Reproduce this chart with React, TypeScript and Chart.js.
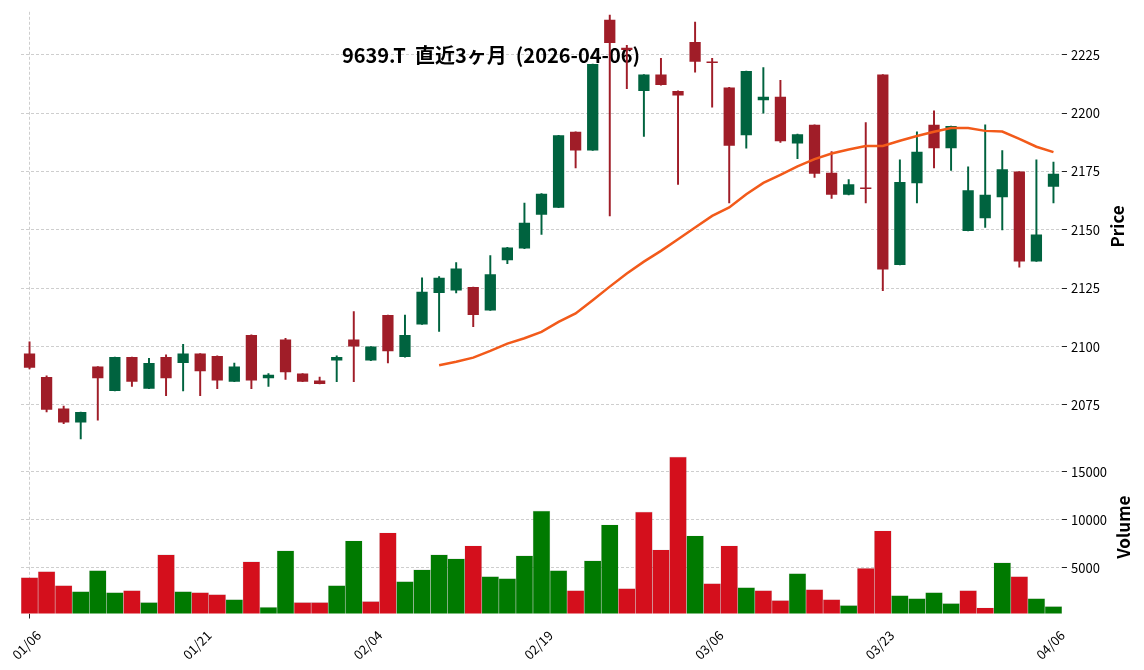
import React, { useEffect, useRef } from 'react';
import { Chart, registerables } from 'chart.js';

Chart.register(...registerables);

const dates = [
  '01/06', '01/07', '01/08', '01/09', '01/13', '01/14', '01/15', '01/16', '01/19', '01/20',
  '01/21', '01/22', '01/23', '01/26', '01/27', '01/28', '01/29', '01/30', '02/02', '02/03',
  '02/04', '02/05', '02/06', '02/09', '02/10', '02/12', '02/13', '02/16', '02/17', '02/18',
  '02/19', '02/20', '02/24', '02/25', '02/26', '02/27', '03/02', '03/03', '03/04', '03/05',
  '03/06', '03/09', '03/10', '03/11', '03/12', '03/13', '03/16', '03/17', '03/18', '03/19',
  '03/23', '03/24', '03/25', '03/26', '03/27', '03/30', '03/31', '04/01', '04/02', '04/03',
  '04/06',
];

const opens = [
  2097, 2087, 2073.5, 2067.5, 2091.5, 2081, 2095.5, 2082, 2095.5, 2093,
  2097, 2096, 2085, 2105, 2086.5, 2103, 2088.5, 2085.5, 2094, 2103,
  2094, 2113.5, 2095.5, 2109.5, 2123, 2124, 2125.5, 2115.5, 2137, 2142,
  2156.5, 2159.5, 2192, 2184, 2240, 2228, 2209.5, 2216.5, 2209.5, 2230.5,
  2222, 2211, 2190.5, 2205.5, 2207, 2187, 2195, 2174.5, 2165, 2168,
  2216.5, 2135, 2170, 2195, 2185, 2149.5, 2155, 2164, 2175, 2136.5,
  2168.5,
];

const highs = [
  2102, 2087.5, 2074.5, 2072, 2091.5, 2095.5, 2095.5, 2095, 2096.5, 2101,
  2097, 2096, 2093, 2105, 2088.5, 2103.5, 2088.5, 2087, 2096, 2115,
  2100, 2113.5, 2113.5, 2129.5, 2130, 2136, 2125.5, 2139, 2142.5, 2161.5,
  2165.5, 2190.5, 2192, 2221, 2242, 2229, 2216.5, 2223.5, 2209.5, 2239,
  2223.5, 2211, 2218, 2219.5, 2214, 2191, 2195, 2183.5, 2171.5, 2196,
  2216.5, 2180, 2192, 2201, 2194.5, 2177, 2195, 2184, 2175, 2180,
  2179,
];

const lows = [
  2090.5, 2072, 2067, 2060.5, 2068.5, 2081, 2083, 2082, 2079, 2081,
  2079, 2082, 2085, 2082, 2083, 2086, 2085, 2084, 2085, 2085,
  2094, 2093, 2095.5, 2109.5, 2106.5, 2123, 2108.5, 2115.5, 2135.5, 2142,
  2148, 2159.5, 2176.5, 2184, 2156, 2210.5, 2190, 2212, 2169.5, 2217.5,
  2202.5, 2161.5, 2185, 2200, 2187.5, 2180.5, 2172.5, 2163.5, 2165, 2161.5,
  2124, 2135, 2161.5, 2176.5, 2175.5, 2149.5, 2151, 2150, 2134, 2136.5,
  2161.5,
];

const closes = [
  2091, 2073, 2067.5, 2072, 2086.5, 2095.5, 2085, 2093, 2086.5, 2097,
  2089.5, 2085.5, 2091.5, 2085.5, 2088, 2089, 2085, 2084, 2095.5, 2100,
  2100, 2098, 2105, 2123.5, 2129.5, 2133.5, 2113.5, 2131, 2142.5, 2153,
  2165.5, 2190.5, 2184, 2221, 2230, 2227, 2216.5, 2212, 2207.5, 2222,
  2221.5, 2186, 2218, 2207, 2188, 2191, 2174, 2165, 2169.5, 2167.5,
  2133, 2170.5, 2183.5, 2185, 2194.5, 2167, 2165, 2176, 2136.5, 2148,
  2174,
];

const volumes = [
  3995, 4616, 3167, 2546, 4720, 2443, 2650, 1408, 6376, 2546,
  2443, 2236, 1718, 5651, 922, 6790, 1408, 1408, 3167, 7825,
  1511, 8653, 3581, 4823, 6376, 5962, 7307, 4098, 3892, 6272,
  10930, 4720, 2650, 5755, 9480, 2857, 10826, 6893, 16550, 8342,
  3374, 7307, 2960, 2650, 1615, 4409, 2753, 1718, 1097, 4958,
  8860, 2132, 1822, 2443, 1304, 2650, 859, 5548, 4098, 1822,
  994,
];

// 25-day moving average (starts at the 25th session)
const ma25Start = 24;
const ma25 = [
  2092.0, 2093.5, 2095.3, 2098.2, 2101.3, 2103.6, 2106.3, 2110.6, 2114.2, 2119.9,
  2125.7, 2131.3, 2136.4, 2141.0, 2146.0, 2151.0, 2156.0, 2159.6, 2165.3, 2170.1,
  2173.6, 2177.2, 2180.3, 2182.7, 2184.4, 2185.9, 2185.9, 2188.2, 2190.2, 2192.0,
  2193.6, 2193.6, 2192.4, 2192.1, 2189.0, 2185.6, 2183.3,
];

const tickDates = ['01/06', '01/21', '02/04', '02/19', '03/06', '03/23', '04/06'];
const priceTicks = [2075, 2100, 2125, 2150, 2175, 2200, 2225];
const volumeTicks = [5000, 10000, 15000];
const titleText = '9639.T  直近3ヶ月  (2026-04-06)';

const UP = '#00633f';
const DOWN = '#a01d28';
const VOL_UP = '#007a00';
const VOL_DOWN = '#d40f1c';
const MA_COLOR = '#f25a1a';
const GRID = '#c2c2c2';
const FONT = '"Noto Sans CJK JP", "Noto Sans", sans-serif';

export default function App() {
  const canvasRef = useRef<HTMLCanvasElement | null>(null);

  useEffect(() => {
    if (!canvasRef.current) return;
    Chart.defaults.font.family = FONT;

    const candleColors = opens.map((o, i) => (closes[i] >= o ? UP : DOWN));
    const volColors = closes.map((c, i) =>
      (i === 0 ? c >= opens[0] : c > closes[i - 1]) ? VOL_UP : VOL_DOWN
    );
    const maData = dates.map((_, i) => (i < ma25Start ? null : ma25[i - ma25Start]));

    const overlay = {
      id: 'overlay',
      beforeDatasetsDraw(chart: any) {
        const ctx = chart.ctx;
        ctx.save();
        ctx.fillStyle = '#000';
        ctx.font = `bold 20px ${FONT}`;
        ctx.textAlign = 'center';
        ctx.textBaseline = 'middle';
        ctx.fillText(titleText, 491, 55);
        ctx.restore();
      },
      afterDraw(chart: any) {
        const ctx = chart.ctx;
        const drawV = (text: string, x: number, y: number) => {
          ctx.save();
          ctx.translate(x, y);
          ctx.rotate(-Math.PI / 2);
          ctx.fillStyle = '#000';
          ctx.font = `bold 17px ${FONT}`;
          ctx.textAlign = 'center';
          ctx.textBaseline = 'middle';
          ctx.fillText(text, 0, 0);
          ctx.restore();
        };
        const yp = chart.scales.y;
        const yv = chart.scales.yv;
        drawV('Price', 1118, (yp.top + yp.bottom) / 2);
        drawV('Volume', 1124, (yv.top + yv.bottom) / 2);
      },
    };

    const isTick = (i: number) => tickDates.includes(dates[i]);

    const chart = new Chart(canvasRef.current, {
      type: 'bar',
      data: {
        labels: dates,
        datasets: [
          {
            type: 'line',
            label: 'MA25',
            data: maData,
            borderColor: MA_COLOR,
            borderWidth: 2.5,
            pointRadius: 0,
            yAxisID: 'y',
            order: 0,
          } as any,
          {
            type: 'bar',
            label: 'body',
            data: opens.map((o, i) => [o, closes[i]]),
            backgroundColor: candleColors,
            borderWidth: 0,
            barPercentage: 0.66,
            categoryPercentage: 1,
            grouped: false,
            minBarLength: 1.5,
            yAxisID: 'y',
            order: 1,
          },
          {
            type: 'bar',
            label: 'wick',
            data: lows.map((l, i) => [l, highs[i]]),
            backgroundColor: candleColors,
            borderWidth: 0,
            barThickness: 1.3,
            grouped: false,
            yAxisID: 'y',
            order: 2,
          },
          {
            type: 'bar',
            label: 'volume',
            data: volumes,
            backgroundColor: volColors,
            borderColor: 'rgba(0,0,0,0.12)',
            borderWidth: 0.6,
            barPercentage: 1,
            categoryPercentage: 1,
            grouped: false,
            yAxisID: 'yv',
            order: 3,
          },
        ],
      },
      options: {
        animation: false,
        responsive: true,
        maintainAspectRatio: false,
        layout: { padding: { left: 21, top: 11, right: 0, bottom: 0 } },
        plugins: {
          legend: { display: false },
          tooltip: { enabled: false },
        },
        scales: {
          x: {
            type: 'category',
            offset: true,
            grid: {
              offset: false,
              color: (c: any) => (isTick(c.index) ? GRID : 'rgba(0,0,0,0)'),
              lineWidth: 0.8,
              drawTicks: true,
              tickLength: 5,
              tickColor: (c: any) => (isTick(c.index) ? '#222' : 'rgba(0,0,0,0)'),
              tickWidth: 1,
              tickBorderDash: [],
            },
            border: { display: false, dash: [3, 2] },
            ticks: {
              autoSkip: false,
              maxRotation: 45,
              minRotation: 45,
              color: '#000',
              font: { size: 13 },
              padding: 9,
              labelOffset: 9,
              callback: (_v: any, i: number) => (isTick(i) ? dates[i] : null),
            },
            afterFit: (s: any) => {
              s.height = 56.5;
              s.paddingLeft = 0;
              s.paddingRight = 0;
            },
          },
          y: {
            type: 'linear',
            position: 'right',
            stack: 'panels',
            stackWeight: 429,
            min: 2059.6,
            max: 2243.4,
            afterBuildTicks: (s: any) => {
              s.ticks = priceTicks.map((v) => ({ value: v }));
            },
            grid: {
              color: GRID,
              lineWidth: 0.8,
              tickLength: 5,
              tickColor: '#222',
              tickWidth: 1,
              tickBorderDash: [],
            },
            border: { display: false, dash: [3, 2] },
            ticks: {
              color: '#000',
              font: { size: 13 },
              padding: 4,
              callback: (v: any) => String(v),
            },
            afterFit: (s: any) => {
              s.width = 82;
            },
          },
          yv: {
            type: 'linear',
            position: 'right',
            stack: 'panels',
            stackWeight: 172.5,
            min: 258,
            max: 18205,
            afterBuildTicks: (s: any) => {
              s.ticks = volumeTicks.map((v) => ({ value: v }));
            },
            grid: {
              color: GRID,
              lineWidth: 0.8,
              tickLength: 5,
              tickColor: '#222',
              tickWidth: 1,
              tickBorderDash: [],
            },
            border: { display: false, dash: [3, 2] },
            ticks: {
              color: '#000',
              font: { size: 13 },
              padding: 4,
              callback: (v: any) => String(v),
            },
            afterFit: (s: any) => {
              s.width = 82;
            },
          },
        },
      } as any,
      plugins: [overlay],
    });

    return () => chart.destroy();
  }, []);

  return (
    <div style={{ position: 'fixed', left: 0, top: 0, width: 1144, height: 670, background: '#fff' }}>
      <canvas ref={canvasRef} />
    </div>
  );
}
